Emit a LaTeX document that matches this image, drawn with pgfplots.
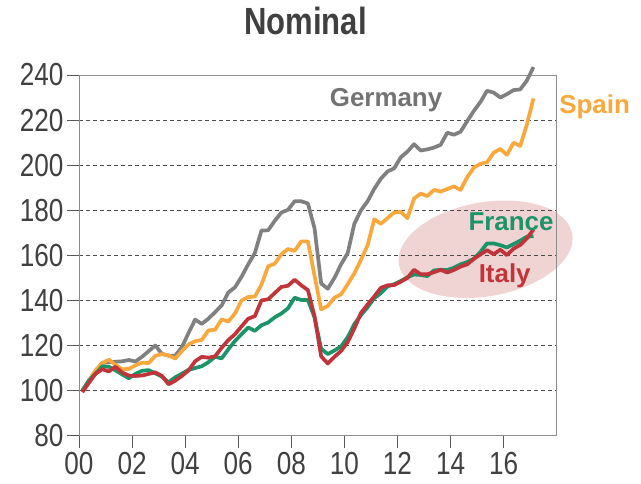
\documentclass[border=0pt]{standalone}
\usepackage{fontspec}
\setmainfont{Liberation Sans}
\newfontfamily\narrowfont[FakeStretch=0.82]{Liberation Sans}
\usepackage{pgfplots}
\pgfplotsset{compat=1.18}
\usepackage{pgfplotstable}
\usetikzlibrary{shapes.geometric}
\definecolor{cde}{HTML}{808080}
\definecolor{ces}{HTML}{F8A83C}
\definecolor{cfr}{HTML}{1B9468}
\definecolor{cit}{HTML}{C0343A}
\definecolor{cell}{HTML}{F0D3D3}
\definecolor{ctxt}{HTML}{404040}
\pgfplotstableread{
t de es fr it
0.125 100 100 100 99.3
0.375 104 104.5 104.5 103.5
0.625 108.5 109 107.5 107.5
0.875 112.3 112.2 110.7 109.5
1.125 112.6 113.7 110.6 108.5
1.375 112.8 111.4 109 110.6
1.625 113 109.5 107.2 108
1.875 113.6 109.6 105.5 106.7
2.125 112.9 111.2 107.4 106.5
2.375 115 112.4 108.8 106.7
2.625 117.5 112.2 109.1 107.4
2.875 120 115.4 107.7 108.1
3.125 116.3 116.2 106.2 106.5
3.375 115.5 115.6 103.7 102.8
3.625 115.5 114.2 105.9 104.4
3.875 119.2 117.5 107.5 106.5
4.125 125.5 120.5 109.2 108.9
4.375 131.5 121.9 110 113
4.625 129.6 122.5 110.8 115
4.875 131.9 126.7 112.6 114.6
5.125 134.8 127 115 115.2
5.375 137.8 131.6 114.3 119
5.625 143.5 130.6 118.3 122.4
5.875 145.8 134.2 122 125
6.125 150.5 140 125 128.5
6.375 156 141.5 128 131.9
6.625 161 141.7 126.5 133
6.875 171 147 129 140
7.125 171.1 155.1 130.2 140.5
7.375 175.3 156.3 132.5 143.3
7.625 179 160.5 134.2 146
7.875 180.2 162.8 136.5 146.5
8.125 184 162 141.2 149.2
8.375 184 166.2 140.2 146.7
8.625 183 166.2 140.2 144.6
8.875 172 151 132.5 133
9.125 147.5 136 118.5 115.2
9.375 145.2 137.6 116.2 112
9.625 150 141.2 117.8 115
9.875 156 142.7 119.6 117.6
10.125 161 147.2 123.7 121.5
10.375 174 152 129.5 127.5
10.625 180 158 133.5 134.5
10.875 184 164.5 137 138.2
11.125 189.5 176 141 141.8
11.375 194 174 143.2 145.6
11.625 197.2 176.5 146.2 146.7
11.875 198.6 179 147.2 146.8
12.125 203.5 179.3 148.6 148.3
12.375 206 176.5 150.3 150
12.625 209.3 185.2 151.5 153.6
12.875 206.5 187.4 151.3 151.6
13.125 207 186.3 150.8 151.6
13.375 207.8 189 153.3 152.5
13.625 209 188.3 153.6 153.6
13.875 214.4 189.4 153.5 152.4
14.125 213.5 190.6 154.5 153.5
14.375 214.8 189 156 155
14.625 219.5 194.6 157 156
14.875 224 198.9 158.5 158.4
15.125 228 200.6 161.5 160.4
15.375 233 201.3 165.3 162.3
15.625 232.2 205.5 165.3 160.5
15.875 230 207.2 164.5 162.5
16.125 231.5 204.6 163.5 160.1
16.375 233.3 210 165 163
16.625 233.6 208.5 166.5 164.6
16.875 237.5 218 168.3 167.5
17.125 243.5 229.6 168.5 171.5
}\datatable
\begin{document}
\begin{tikzpicture}
\begin{axis}[
  set layers,
  scale only axis,
  width=477.7bp, height=360.7bp,
  xmin=0, xmax=18, ymin=80, ymax=240,
  clip=false,
  xtick={0,2,4,6,8,10,12,14,16},
  xticklabels={00,02,04,06,08,10,12,14,16},
  ytick={80,100,120,140,160,180,200,220,240},
  tick pos=left,
  tick align=outside,
  major tick length=12bp,
  tick style={color=black!65, line width=0.8bp},
  axis line style={color=black!45, line width=0.8bp},
  ymajorgrids,
  grid style={color=black!70, line width=0.6bp, dash pattern=on 4bp off 3bp},
  /pgf/number format/assume math mode=true,
  ticklabel style={font=\narrowfont\fontsize{32}{32}\selectfont, text=ctxt},
  xticklabel style={yshift=-1bp},
  line join=round,
]
\begin{pgfonlayer}{axis background}
\node[ellipse, fill=cell, minimum width=176bp, minimum height=94bp, inner sep=0pt, rotate=10] at (axis cs:15.32,162.7) {};
\end{pgfonlayer}
\addplot[cde, line width=3.7bp] table[x=t, y=de] {\datatable};
\addplot[ces, line width=3.7bp] table[x=t, y=es] {\datatable};
\addplot[cfr, line width=3.7bp] table[x=t, y=fr] {\datatable};
\addplot[cit, line width=3.7bp] table[x=t, y=it] {\datatable};
\node[anchor=base, font=\bfseries\fontsize{26}{26}\selectfont, text=black!55] at (axis cs:11.57,225.9) {Germany};
\node[anchor=base, font=\bfseries\fontsize{26}{26}\selectfont, text=ces] at (axis cs:19.43,222.7) {Spain};
\node[anchor=base, font=\bfseries\fontsize{26}{26}\selectfont, text=cfr] at (axis cs:16.28,171.1) {France};
\node[anchor=base, font=\bfseries\fontsize{26}{26}\selectfont, text=cit] at (axis cs:16.04,148) {Italy};
\node[anchor=base, font=\narrowfont\bfseries\fontsize{38}{38}\selectfont, text=ctxt] at (rel axis cs:0.474,1) [yshift=40bp] {Nominal};
\end{axis}
\path (current axis.south west) ++(-79bp,-48.3bp) rectangle ++(641bp,484bp);
\end{tikzpicture}
\end{document}
